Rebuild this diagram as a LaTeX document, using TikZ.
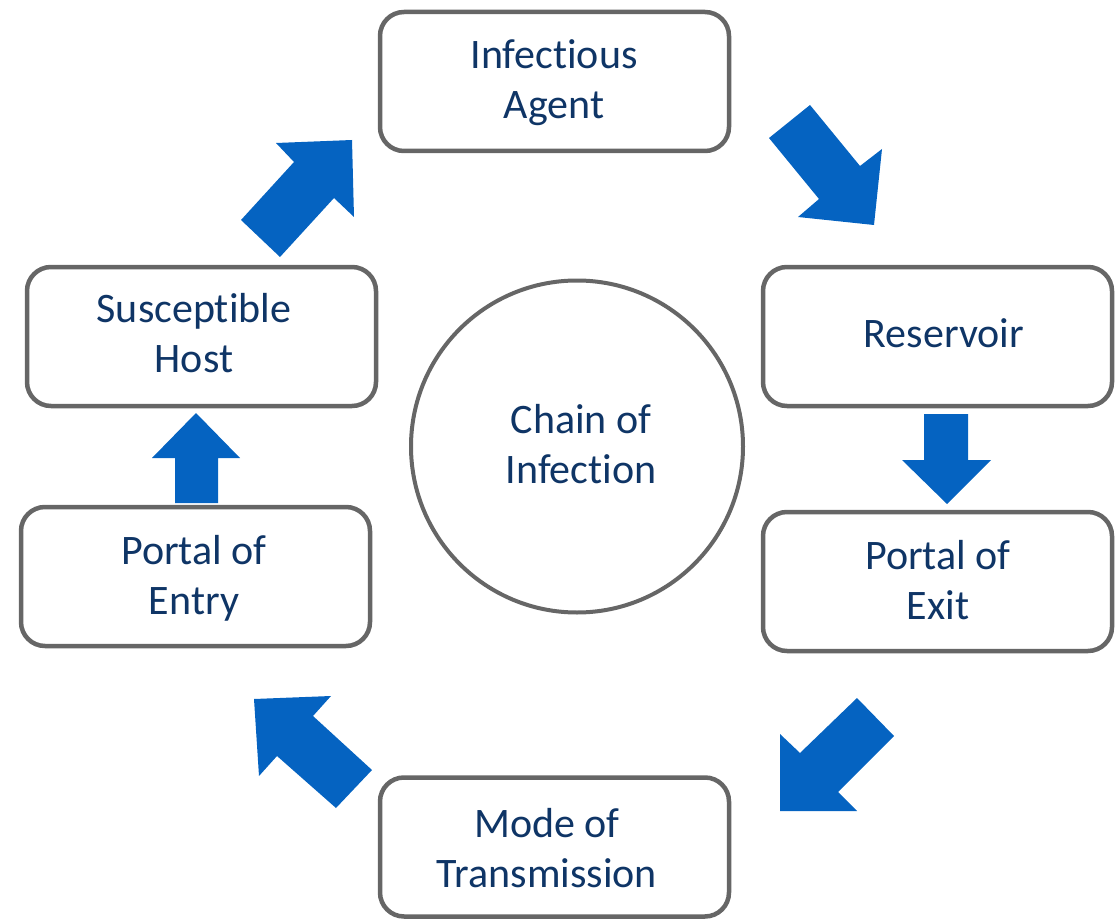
\documentclass[tikz,border=0pt]{standalone}
\usepackage{fontspec}
\setmainfont{Carlito}[Ligatures={NoCommon}]
\definecolor{boxline}{HTML}{666666}
\definecolor{arrowblue}{HTML}{0563C1}
\definecolor{txt}{HTML}{0F3566}
\begin{document}
\begin{tikzpicture}[x=1pt,y=-1pt,
  stage/.style={draw=boxline, line width=4.5pt, rounded corners=24pt, fill=white,
    minimum width=349pt, minimum height=139pt, inner sep=0pt},
  hub/.style={draw=boxline, line width=4pt, circle, minimum size=332pt, inner sep=0pt},
  caption/.style={anchor=base, inner sep=0pt, align=center, text=txt,
    font=\fontsize{42}{50}\selectfont},
  blockarrow/.style={fill=arrowblue, draw=none}]
\useasboundingbox (0,0) rectangle (1119,920);
\node[stage] (agent) at (554.5,81.5) {};
\node[stage] (res) at (937.5,336.5) {};
\node[stage] (exit) at (937.5,581.5) {};
\node[stage] (mode) at (554.5,847) {};
\node[stage] (entry) at (195.5,576.5) {};
\node[stage] (host) at (201.5,336.5) {};
\node[hub] (hubnode) at (577,446.5) {};
\node[caption] (agentT) at (554,119) {Infectious\\Agent};
\node[caption] (resT) at (944,347) {Reservoir};
\node[caption] (exitT) at (938,619) {Portal of\\Exit};
\node[caption] (modeT) at (547,887) {Mode of\\Transmission};
\node[caption] (entryT) at (194,614) {Portal of\\Entry};
\node[caption] (hostT) at (194,372) {Susceptible\\Host};
\node[caption] (hubT) at (581,483) {Chain of\\Infection};
% block arrows
\fill[blockarrow] (769,138) -- (810,105) -- (860,166) -- (882,149) -- (874,225) -- (798,217) -- (819,199) -- cycle;
\fill[blockarrow] (924,414) -- (968,414) -- (968,460) -- (991,460) -- (947,504) -- (902,460) -- (924,460) -- cycle;
\fill[blockarrow] (857,698) -- (894,736) -- (838,792) -- (857,811) -- (780,811) -- (780,734) -- (800,753) -- cycle;
\fill[blockarrow] (372,770) -- (336,808) -- (277,756) -- (259,776) -- (254,699) -- (331,696) -- (313,716) -- cycle;
\fill[blockarrow] (175,503) -- (218,503) -- (218,458) -- (240,458) -- (196,413) -- (152,458) -- (175,458) -- cycle;
\fill[blockarrow] (241,220) -- (294,162) -- (276,143) -- (352,140) -- (354,217) -- (334,198) -- (280,257) -- cycle;
\end{tikzpicture}
\end{document}
